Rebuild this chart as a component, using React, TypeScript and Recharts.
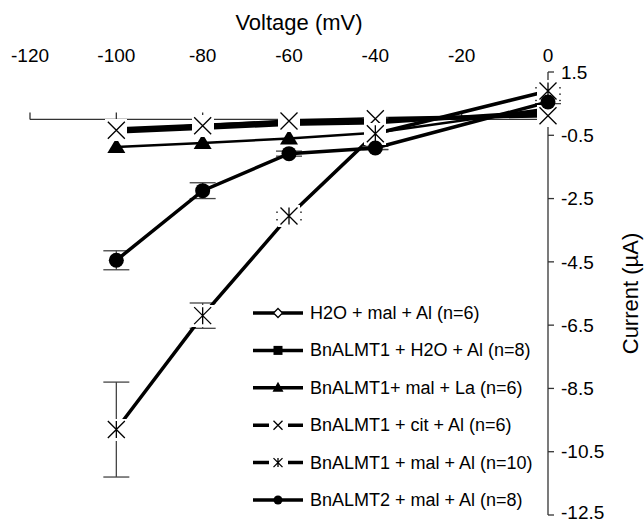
import {
  LineChart,
  Line,
  XAxis,
  YAxis,
  ReferenceLine,
  ErrorBar,
  Legend,
  Label,
} from "recharts"

// membrane voltage (mV) and mean current (µA)
const VOLTAGE = [-100, -80, -60, -40, 0]
const H2O_MAL_AL = [-0.3, -0.18, -0.08, -0.05, 0.15]
const ALMT1_H2O_AL = [-0.4, -0.28, -0.15, -0.1, 0.25]
const ALMT1_MAL_LA = [-0.87, -0.74, -0.6, -0.42, 0.35]
const ALMT1_CIT_AL = [-0.34, -0.2, -0.05, 0.02, 0.12]
const ALMT1_MAL_AL = [-9.8, -6.2, -3.05, -0.45, 0.9]
const ALMT1_MAL_AL_ERR = [1.5, 0.4, 0.12, 0.5, 0.1]
const ALMT2_MAL_AL = [-4.45, -2.25, -1.08, -0.9, 0.55]
const ALMT2_MAL_AL_ERR = [0.3, 0.25, 0.08, 0.05, 0.05]

const X_TICKS = [-120, -100, -80, -60, -40, -20, 0]
const Y_TICKS = [1.5, -0.5, -2.5, -4.5, -6.5, -8.5, -10.5, -12.5]

const FONT = "'Liberation Sans', Arial, sans-serif"
const AXIS = "#333"

type Kind = "diamond" | "square" | "triangle" | "cross" | "star" | "circle"

const SERIES: { key: string; name: string; kind: Kind; values: number[]; width: number }[] = [
  { key: "h2oMalAl", name: "H2O + mal + Al (n=6)", kind: "diamond", values: H2O_MAL_AL, width: 3.5 },
  { key: "almt1H2oAl", name: "BnALMT1 + H2O + Al (n=8)", kind: "square", values: ALMT1_H2O_AL, width: 3.5 },
  { key: "almt1MalLa", name: "BnALMT1+ mal + La (n=6)", kind: "triangle", values: ALMT1_MAL_LA, width: 2.5 },
  { key: "almt1CitAl", name: "BnALMT1 + cit + Al (n=6)", kind: "cross", values: ALMT1_CIT_AL, width: 3.5 },
  { key: "almt1MalAl", name: "BnALMT1 + mal + Al (n=10)", kind: "star", values: ALMT1_MAL_AL, width: 3.5 },
  { key: "almt2MalAl", name: "BnALMT2 + mal + Al (n=8)", kind: "circle", values: ALMT2_MAL_AL, width: 3.5 },
]

const data = VOLTAGE.map((v, i) => {
  const row: Record<string, number> = { v }
  SERIES.forEach((s) => (row[s.key] = s.values[i]))
  row.almt1MalAlErr = ALMT1_MAL_AL_ERR[i]
  row.almt2MalAlErr = ALMT2_MAL_AL_ERR[i]
  return row
})

function Marker({ kind, cx, cy, small }: { kind: Kind; cx: number; cy: number; small?: boolean }) {
  if (kind === "diamond") {
    const r = small ? 4.5 : 6
    return (
      <path
        d={`M${cx},${cy - r}L${cx + r},${cy}L${cx},${cy + r}L${cx - r},${cy}Z`}
        fill="#fff"
        stroke="#000"
        strokeWidth={1.3}
      />
    )
  }
  if (kind === "square") {
    const h = small ? 4.5 : 5.5
    return <rect x={cx - h} y={cy - h} width={h * 2} height={h * 2} fill="#000" />
  }
  if (kind === "triangle") {
    const w = small ? 5.5 : 9
    const up = small ? 6 : 9
    const dn = small ? 4 : 6
    return <path d={`M${cx},${cy - up}L${cx + w},${cy + dn}L${cx - w},${cy + dn}Z`} fill="#000" />
  }
  if (kind === "circle") {
    return <circle cx={cx} cy={cy} r={small ? 4.5 : 7.5} fill="#000" />
  }
  // crosses sit on a white patch that breaks the lines around them
  const box = small ? 9.5 : 11
  const a = small ? 4.5 : 8.5
  let d = `M${cx - a},${cy - a}L${cx + a},${cy + a}M${cx - a},${cy + a}L${cx + a},${cy - a}`
  if (kind === "star") d += `M${cx},${cy - a}L${cx},${cy + a}`
  return (
    <g>
      <rect
        x={Math.round(cx - box)}
        y={Math.round(cy - box)}
        width={box * 2}
        height={box * 2}
        fill="#fff"
        shapeRendering="crispEdges"
      />
      <path d={d} stroke="#000" strokeWidth={1.3} fill="none" />
    </g>
  )
}

function ChartLegend() {
  return (
    <svg width={300} height={230} style={{ display: "block" }}>
      {SERIES.map((s, i) => {
        const y = 23 + i * 37.4
        return (
          <g key={s.key}>
            <line x1={13} x2={63} y1={y} y2={y} stroke="#000" strokeWidth={3.5} />
            <Marker kind={s.kind} cx={38} cy={y} small />
            <text
              x={70}
              y={y}
              dominantBaseline="central"
              fontSize={18}
              fontFamily={FONT}
              fill="#000"
            >
              {s.name}
            </text>
          </g>
        )
      })}
    </svg>
  )
}

export default function App() {
  return (
    <div style={{ position: "absolute", left: 0, top: 0, width: 644, height: 523, background: "#fff" }}>
      <LineChart
        width={644}
        height={523}
        data={data}
        margin={{ top: 8, right: 0, bottom: 8, left: 30 }}
      >
        <XAxis
          dataKey="v"
          type="number"
          orientation="top"
          domain={[-120, 0]}
          ticks={X_TICKS}
          height={64}
          axisLine={false}
          tickLine={false}
          tickSize={0}
          tickMargin={10}
          tick={{ fontSize: 19, fill: "#000", fontFamily: FONT }}
        >
          <Label
            content={({ viewBox }: any) => (
              <text
                x={viewBox.x + viewBox.width / 2 + 10}
                y={22}
                textAnchor="middle"
                dominantBaseline="central"
                fontSize={22}
                fontFamily={FONT}
                fill="#000"
              >
                Voltage (mV)
              </text>
            )}
          />
        </XAxis>
        <YAxis
          type="number"
          orientation="right"
          domain={[-12.5, 1.5]}
          ticks={Y_TICKS}
          width={96}
          axisLine={{ stroke: AXIS, strokeWidth: 1.3 }}
          tickLine={{ stroke: AXIS, strokeWidth: 1.3 }}
          tickSize={6}
          tickMargin={7}
          tick={{ fontSize: 19, fill: "#000", fontFamily: FONT }}
        >
          <Label
            content={({ viewBox }: any) => {
              const x = viewBox.x + 82
              const y = viewBox.y + viewBox.height / 2
              return (
                <text
                  x={x}
                  y={y}
                  transform={`rotate(-90, ${x}, ${y})`}
                  textAnchor="middle"
                  dominantBaseline="central"
                  fontSize={22}
                  fontFamily={FONT}
                  fill="#000"
                >
                  Current (µA)
                </text>
              )
            }}
          />
        </YAxis>

        <ReferenceLine y={0} stroke={AXIS} strokeWidth={1.3} />
        {X_TICKS.filter((t) => t < 0).map((t) => (
          <ReferenceLine
            key={t}
            segment={[
              { x: t, y: 0 },
              { x: t, y: 0.22 },
            ]}
            stroke={AXIS}
            strokeWidth={1.3}
          />
        ))}

        {SERIES.map((s) => (
          <Line
            key={s.key}
            dataKey={s.key}
            name={s.name}
            type="linear"
            stroke="#000"
            strokeWidth={s.width}
            isAnimationActive={false}
            activeDot={false}
            dot={(p: any) => <Marker key={`${s.key}-${p.index}`} kind={s.kind} cx={p.cx} cy={p.cy} />}
          >
            {s.key === "almt1MalAl" && (
              <ErrorBar
                dataKey="almt1MalAlErr"
                direction="y"
                width={13}
                stroke="#444"
                strokeWidth={1.3}
                isAnimationActive={false}
              />
            )}
            {s.key === "almt2MalAl" && (
              <ErrorBar
                dataKey="almt2MalAlErr"
                direction="y"
                width={13}
                stroke="#444"
                strokeWidth={1.3}
                isAnimationActive={false}
              />
            )}
          </Line>
        ))}

        <Legend
          layout="vertical"
          align="center"
          verticalAlign="middle"
          wrapperStyle={{ left: 240, top: 290, width: 300 }}
          content={() => <ChartLegend />}
        />
      </LineChart>
    </div>
  )
}
